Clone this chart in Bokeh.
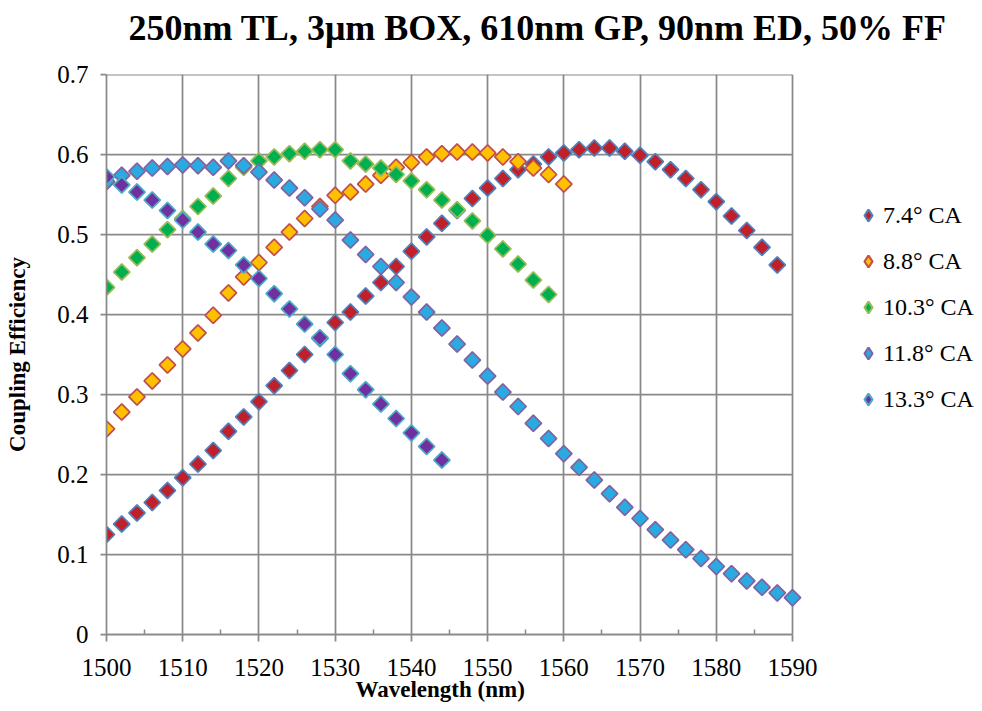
from bokeh.plotting import figure
from bokeh.models import (Legend, LegendItem, FixedTicker, Range1d, ColumnDataSource,
                          Title)
from bokeh.embed import file_html
from bokeh.resources import INLINE

title_text = "250nm TL, 3\u03bcm BOX, 610nm GP, 90nm ED, 50% FF"
x_label = "Wavelength (nm)"
y_label = "Coupling Efficiency"

wavelength = [1500, 1502, 1504, 1506, 1508, 1510, 1512, 1514, 1516, 1518,
              1520, 1522, 1524, 1526, 1528, 1530, 1532, 1534, 1536, 1538,
              1540, 1542, 1544, 1546, 1548, 1550, 1552, 1554, 1556, 1558,
              1560, 1562, 1564, 1566, 1568, 1570, 1572, 1574, 1576, 1578,
              1580, 1582, 1584, 1586, 1588, 1590]

ce_7_4 = [0.125, 0.138, 0.152, 0.165, 0.180, 0.196, 0.213, 0.230, 0.254, 0.272,
          0.291, 0.311, 0.330, 0.350, 0.370, 0.390, 0.403, 0.423, 0.440, 0.460,
          0.479, 0.497, 0.514, 0.530, 0.545, 0.558, 0.570, 0.581, 0.588, 0.597,
          0.602, 0.606, 0.608, 0.608, 0.604, 0.599, 0.591, 0.581, 0.570, 0.556,
          0.541, 0.523, 0.505, 0.484, 0.462]

ce_8_8 = [0.257, 0.278, 0.297, 0.317, 0.337, 0.357, 0.377, 0.399, 0.427, 0.447,
          0.465, 0.484, 0.503, 0.520, 0.535, 0.549, 0.553, 0.563, 0.574, 0.584,
          0.590, 0.597, 0.601, 0.603, 0.603, 0.602, 0.597, 0.591, 0.583, 0.575,
          0.563]

ce_10_3 = [0.434, 0.453, 0.471, 0.488, 0.506, 0.520, 0.535, 0.548, 0.570, 0.584,
           0.592, 0.597, 0.601, 0.604, 0.606, 0.606, 0.592, 0.588, 0.583, 0.575,
           0.567, 0.556, 0.543, 0.531, 0.517, 0.499, 0.482, 0.463, 0.443, 0.425]

ce_11_8 = [0.566, 0.574, 0.579, 0.583, 0.585, 0.587, 0.586, 0.584, 0.592, 0.586,
           0.578, 0.568, 0.558, 0.546, 0.532, 0.518, 0.493, 0.475, 0.460, 0.440,
           0.422, 0.403, 0.383, 0.363, 0.343, 0.323, 0.303, 0.285, 0.264, 0.245,
           0.226, 0.209, 0.193, 0.176, 0.159, 0.145, 0.131, 0.118, 0.106, 0.095,
           0.085, 0.076, 0.067, 0.059, 0.052, 0.046]

ce_13_3 = [0.572, 0.562, 0.553, 0.543, 0.530, 0.518, 0.503, 0.488, 0.480, 0.462,
           0.445, 0.426, 0.407, 0.388, 0.371, 0.350, 0.326, 0.306, 0.288, 0.270,
           0.252, 0.235, 0.218]

series_names = ["7.4\u00b0 CA", "8.8\u00b0 CA", "10.3\u00b0 CA", "11.8\u00b0 CA", "13.3\u00b0 CA"]
series_values = [ce_7_4, ce_8_8, ce_10_3, ce_11_8, ce_13_3]
fill_colors = ["#C0202A", "#FFC000", "#00B050", "#29ABE2", "#7030A0"]
edge_colors = ["#4F81BD", "#C0504D", "#9BBB59", "#8064A2", "#4BACC6"]

x_ticks = [1500, 1510, 1520, 1530, 1540, 1550, 1560, 1570, 1580, 1590]
x_minor = [1505, 1515, 1525, 1535, 1545, 1555, 1565, 1575, 1585]
y_ticks = [0, 0.1, 0.2, 0.3, 0.4, 0.5, 0.6, 0.7]

SERIF = "Liberation Serif"
GRAY = "#898989"

# layout (pixels): plot area 106..792 wide; the legend sits to its right
W, H = 982, 711
AREA_LEFT, AREA_RIGHT = 106, 792
px_per_nm = (AREA_RIGHT - AREA_LEFT) / (x_ticks[-1] - x_ticks[0])
x_end = x_ticks[-1] + (W - AREA_RIGHT) / px_per_nm   # room for the legend

p = figure(width=W, height=H, output_backend="svg", toolbar_location=None,
           x_range=Range1d(x_ticks[0], x_end), y_range=Range1d(y_ticks[0], y_ticks[-1]),
           min_border_left=AREA_LEFT, min_border_right=0, min_border_top=74,
           min_border_bottom=77, title=title_text)
p.outline_line_color = None
p.background_fill_color = "white"
p.border_fill_color = "white"

p.title.text_font = SERIF
p.title.text_font_size = "36px"
p.title.text_font_style = "bold"
p.title.text_color = "black"
p.title.align = "left"
p.title.offset = 22
p.title.standoff = 6

# blank spacer between title and plot area
p.add_layout(Title(text=" ", text_font_size="1px", standoff=21), "above")

xa = p.below[0]
ya = p.left[0]
xa.ticker = FixedTicker(ticks=x_ticks, minor_ticks=x_minor)
xa.bounds = (x_ticks[0], x_ticks[-1])
ya.ticker = FixedTicker(ticks=y_ticks)
ya.major_label_overrides = {0: "0"}
for ax in (xa, ya):
    ax.axis_line_color = GRAY
    ax.axis_line_width = 1.75
    ax.major_tick_line_color = GRAY
    ax.major_tick_line_width = 1.75
    ax.minor_tick_line_color = GRAY
    ax.minor_tick_line_width = 1.5
    ax.major_label_text_font = SERIF
    ax.major_label_text_font_size = "25px"
    ax.major_label_text_color = "black"
    ax.axis_label_text_font = SERIF
    ax.axis_label_text_font_style = "bold"
    ax.axis_label_text_font_size = "23px"
    ax.axis_label_text_color = "black"

xa.major_tick_in = 0
xa.major_tick_out = 7
xa.minor_tick_in = 5
xa.minor_tick_out = 0
xa.major_label_standoff = 17

# x axis title below the tick labels (left of centre, as in the reference)
p.add_layout(Title(text=x_label, align="left", offset=355 - AREA_LEFT,
                   text_font=SERIF, text_font_size="23px", text_font_style="bold",
                   text_color="black", standoff=-7), "below")

ya.axis_label = y_label
ya.major_tick_in = 0
ya.major_tick_out = 6
ya.minor_tick_in = 0
ya.minor_tick_out = 0
ya.major_label_standoff = 12
ya.axis_label_standoff = 24

p.xgrid.grid_line_color = GRAY
p.xgrid.grid_line_width = 1.75
p.ygrid.grid_line_color = None
# horizontal gridlines limited to the x axis extent
p.segment(x0=[x_ticks[0]] * len(y_ticks), x1=[x_ticks[-1]] * len(y_ticks),
          y0=y_ticks, y1=y_ticks, line_color=GRAY, line_width=1.75, level="underlay")

items = []
for name, vals, fc, ec in zip(series_names, series_values, fill_colors, edge_colors):
    src = ColumnDataSource(dict(x=wavelength[:len(vals)], y=vals))
    p.scatter("x", "y", source=src, marker="square", angle=0.785398, size=11.5,
              fill_color=fc, line_color=ec, line_width=1.75)
    # legend swatch (diamond) with the series colours; NaN point is never drawn
    proxy = p.scatter(x=[float("nan")], y=[float("nan")], marker="diamond", size=14,
                      fill_color=fc, line_color=ec, line_width=2.25)
    items.append(LegendItem(label=name, renderers=[proxy]))

legend = Legend(items=items, location=(853 - AREA_LEFT, 217), orientation="vertical",
                glyph_width=30, glyph_height=36, label_height=36, spacing=10,
                padding=0, margin=0, label_standoff=0,
                label_text_font=SERIF, label_text_font_size="24px",
                label_text_color="black", border_line_color=None,
                background_fill_alpha=0)
p.add_layout(legend)

open("out.html", "w").write(file_html(p, INLINE))
